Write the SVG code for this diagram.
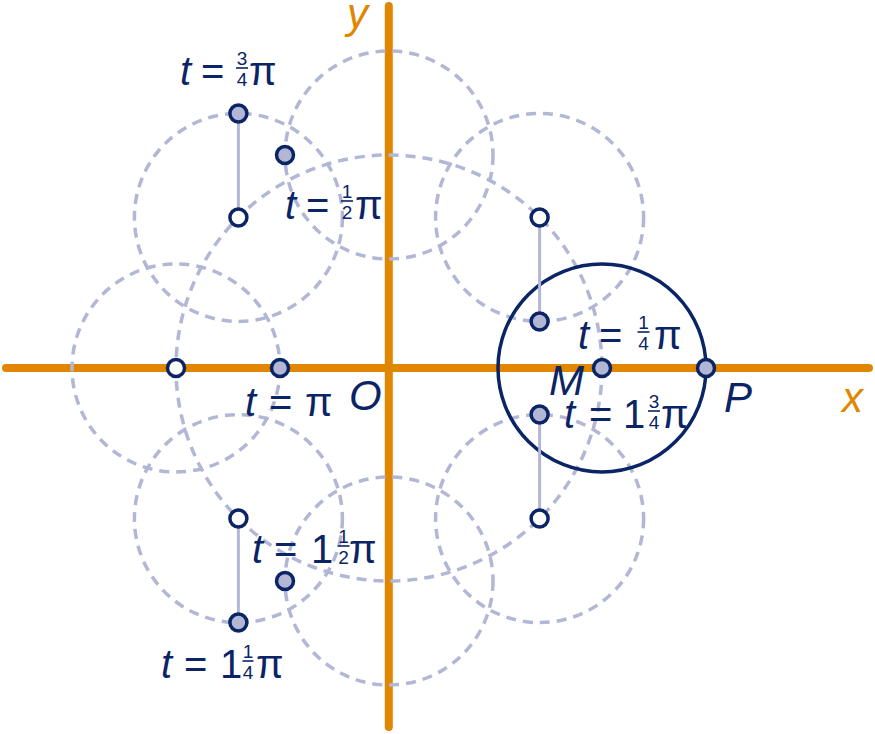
<svg xmlns="http://www.w3.org/2000/svg" width="875" height="734" viewBox="0 0 875 734">
<style>
.axis{stroke:#e08600;stroke-width:8;stroke-linecap:round;fill:none}
.dash{stroke:#b1b7d5;stroke-width:3.5;stroke-dasharray:10 7;fill:none}
.solid{stroke:#0a2465;stroke-width:3.5;fill:none}
.seg{stroke:#b1b7d5;stroke-width:3;fill:none}
.pf{fill:#b1b7d5;stroke:#0a2465;stroke-width:3.5}
.po{fill:#ffffff;stroke:#0a2465;stroke-width:3.5}
text{font-family:"Liberation Sans",Arial,sans-serif;fill:#0a2465}
.t{font-size:40px;font-style:italic}
.m{font-size:40px}
.fr{font-size:19px;text-anchor:middle}
.big{font-size:42px;font-style:italic}
.ax{fill:#e08600}
.bar{stroke:#0a2465;stroke-width:1.6}
</style>
<rect width="875" height="734" fill="#ffffff"/>
<g id="axes">
<line class="axis" x1="6" y1="368" x2="869" y2="368"/>
<line class="axis" x1="388.8" y1="6" x2="388.8" y2="727"/>
<text class="big ax" x="842" y="412">x</text>
<text class="big ax" x="347" y="28">y</text>
<text class="big" x="349" y="410">O</text>
</g>
<g id="dashed-circles">
<circle class="dash" cx="389" cy="368" r="213"/>
<circle class="dash" cx="539.6" cy="217.4" r="104"/>
<circle class="dash" cx="389" cy="155" r="104"/>
<circle class="dash" cx="238.4" cy="217.4" r="104"/>
<circle class="dash" cx="176" cy="368" r="104"/>
<circle class="dash" cx="238.4" cy="518.6" r="104"/>
<circle class="dash" cx="389" cy="581" r="104"/>
<circle class="dash" cx="539.6" cy="518.6" r="104"/>
</g>
<g id="circle-M">
<circle class="solid" cx="602" cy="368" r="104"/>
</g>
<g id="connectors">
<line class="seg" x1="539.6" y1="217.4" x2="539.6" y2="321.4"/>
<line class="seg" x1="238.4" y1="217.4" x2="238.4" y2="113.4"/>
<line class="seg" x1="238.4" y1="518.6" x2="238.4" y2="622.6"/>
<line class="seg" x1="539.6" y1="518.6" x2="539.6" y2="414.6"/>
</g>
<g id="centers">
<circle class="po" cx="539.6" cy="217.4" r="8.5"/>
<circle class="po" cx="238.4" cy="217.4" r="8.5"/>
<circle class="po" cx="176" cy="368" r="8.5"/>
<circle class="po" cx="238.4" cy="518.6" r="8.5"/>
<circle class="po" cx="539.6" cy="518.6" r="8.5"/>
</g>
<g id="node-M">
<circle class="pf" cx="602" cy="368" r="8.5"/>
<text class="big" x="549" y="395">M</text>
</g>
<g id="node-P">
<circle class="pf" cx="706" cy="368" r="8.5"/>
<text class="big" x="724" y="412">P</text>
</g>
<g id="node-t14">
<circle class="pf" cx="539.6" cy="321.4" r="8.5"/>
<text class="t" x="578" y="349">t</text>
<text class="m" x="599" y="349">=</text>
<text class="fr" x="643.5" y="329">1</text>
<line class="bar" x1="637.5" y1="332" x2="649.5" y2="332"/>
<text class="fr" x="643.5" y="349.5">4</text>
<text class="m" x="654" y="349">π</text>
</g>
<g id="node-t12">
<circle class="pf" cx="285" cy="155" r="8.5"/>
<text class="t" x="285" y="219">t</text>
<text class="m" x="306" y="219">=</text>
<text class="fr" x="347" y="198">1</text>
<line class="bar" x1="341" y1="201" x2="353" y2="201"/>
<text class="fr" x="347" y="218.5">2</text>
<text class="m" x="355" y="219">π</text>
</g>
<g id="node-t34">
<circle class="pf" cx="238.4" cy="113.4" r="8.5"/>
<text class="t" x="180" y="85">t</text>
<text class="m" x="201" y="85">=</text>
<text class="fr" x="242" y="65">3</text>
<line class="bar" x1="236" y1="68" x2="248" y2="68"/>
<text class="fr" x="242" y="85.5">4</text>
<text class="m" x="249" y="85">π</text>
</g>
<g id="node-t1">
<circle class="pf" cx="280" cy="368" r="8.5"/>
<text class="t" x="245" y="415.5">t</text>
<text class="m" x="269" y="415.5">=</text>
<text class="m" x="305" y="415.5">π</text>
</g>
<g id="node-t114">
<circle class="pf" cx="238.4" cy="622.6" r="8.5"/>
<text class="t" x="161" y="677.5">t</text>
<text class="m" x="184" y="677.5">=</text>
<text class="m" x="220" y="677.5">1</text>
<text class="fr" x="248" y="658">1</text>
<line class="bar" x1="242.5" y1="661" x2="253.5" y2="661"/>
<text class="fr" x="248" y="678.5">4</text>
<text class="m" x="256" y="677.5">π</text>
</g>
<g id="node-t112">
<circle class="pf" cx="285" cy="581" r="8.5"/>
<text class="t" x="252" y="562.5">t</text>
<text class="m" x="274" y="562.5">=</text>
<text class="m" x="311" y="562.5">1</text>
<text class="fr" x="343.5" y="543">1</text>
<line class="bar" x1="337.5" y1="546" x2="349.5" y2="546"/>
<text class="fr" x="343.5" y="563.5">2</text>
<text class="m" x="349" y="562.5">π</text>
</g>
<g id="node-t134">
<circle class="pf" cx="539.6" cy="414.6" r="8.5"/>
<text class="t" x="564" y="427.5">t</text>
<text class="m" x="589" y="427.5">=</text>
<text class="m" x="623" y="427.5">1</text>
<text class="fr" x="654" y="408">3</text>
<line class="bar" x1="648" y1="411" x2="660" y2="411"/>
<text class="fr" x="654" y="428.5">4</text>
<text class="m" x="661" y="427.5">π</text>
</g>
</svg>
